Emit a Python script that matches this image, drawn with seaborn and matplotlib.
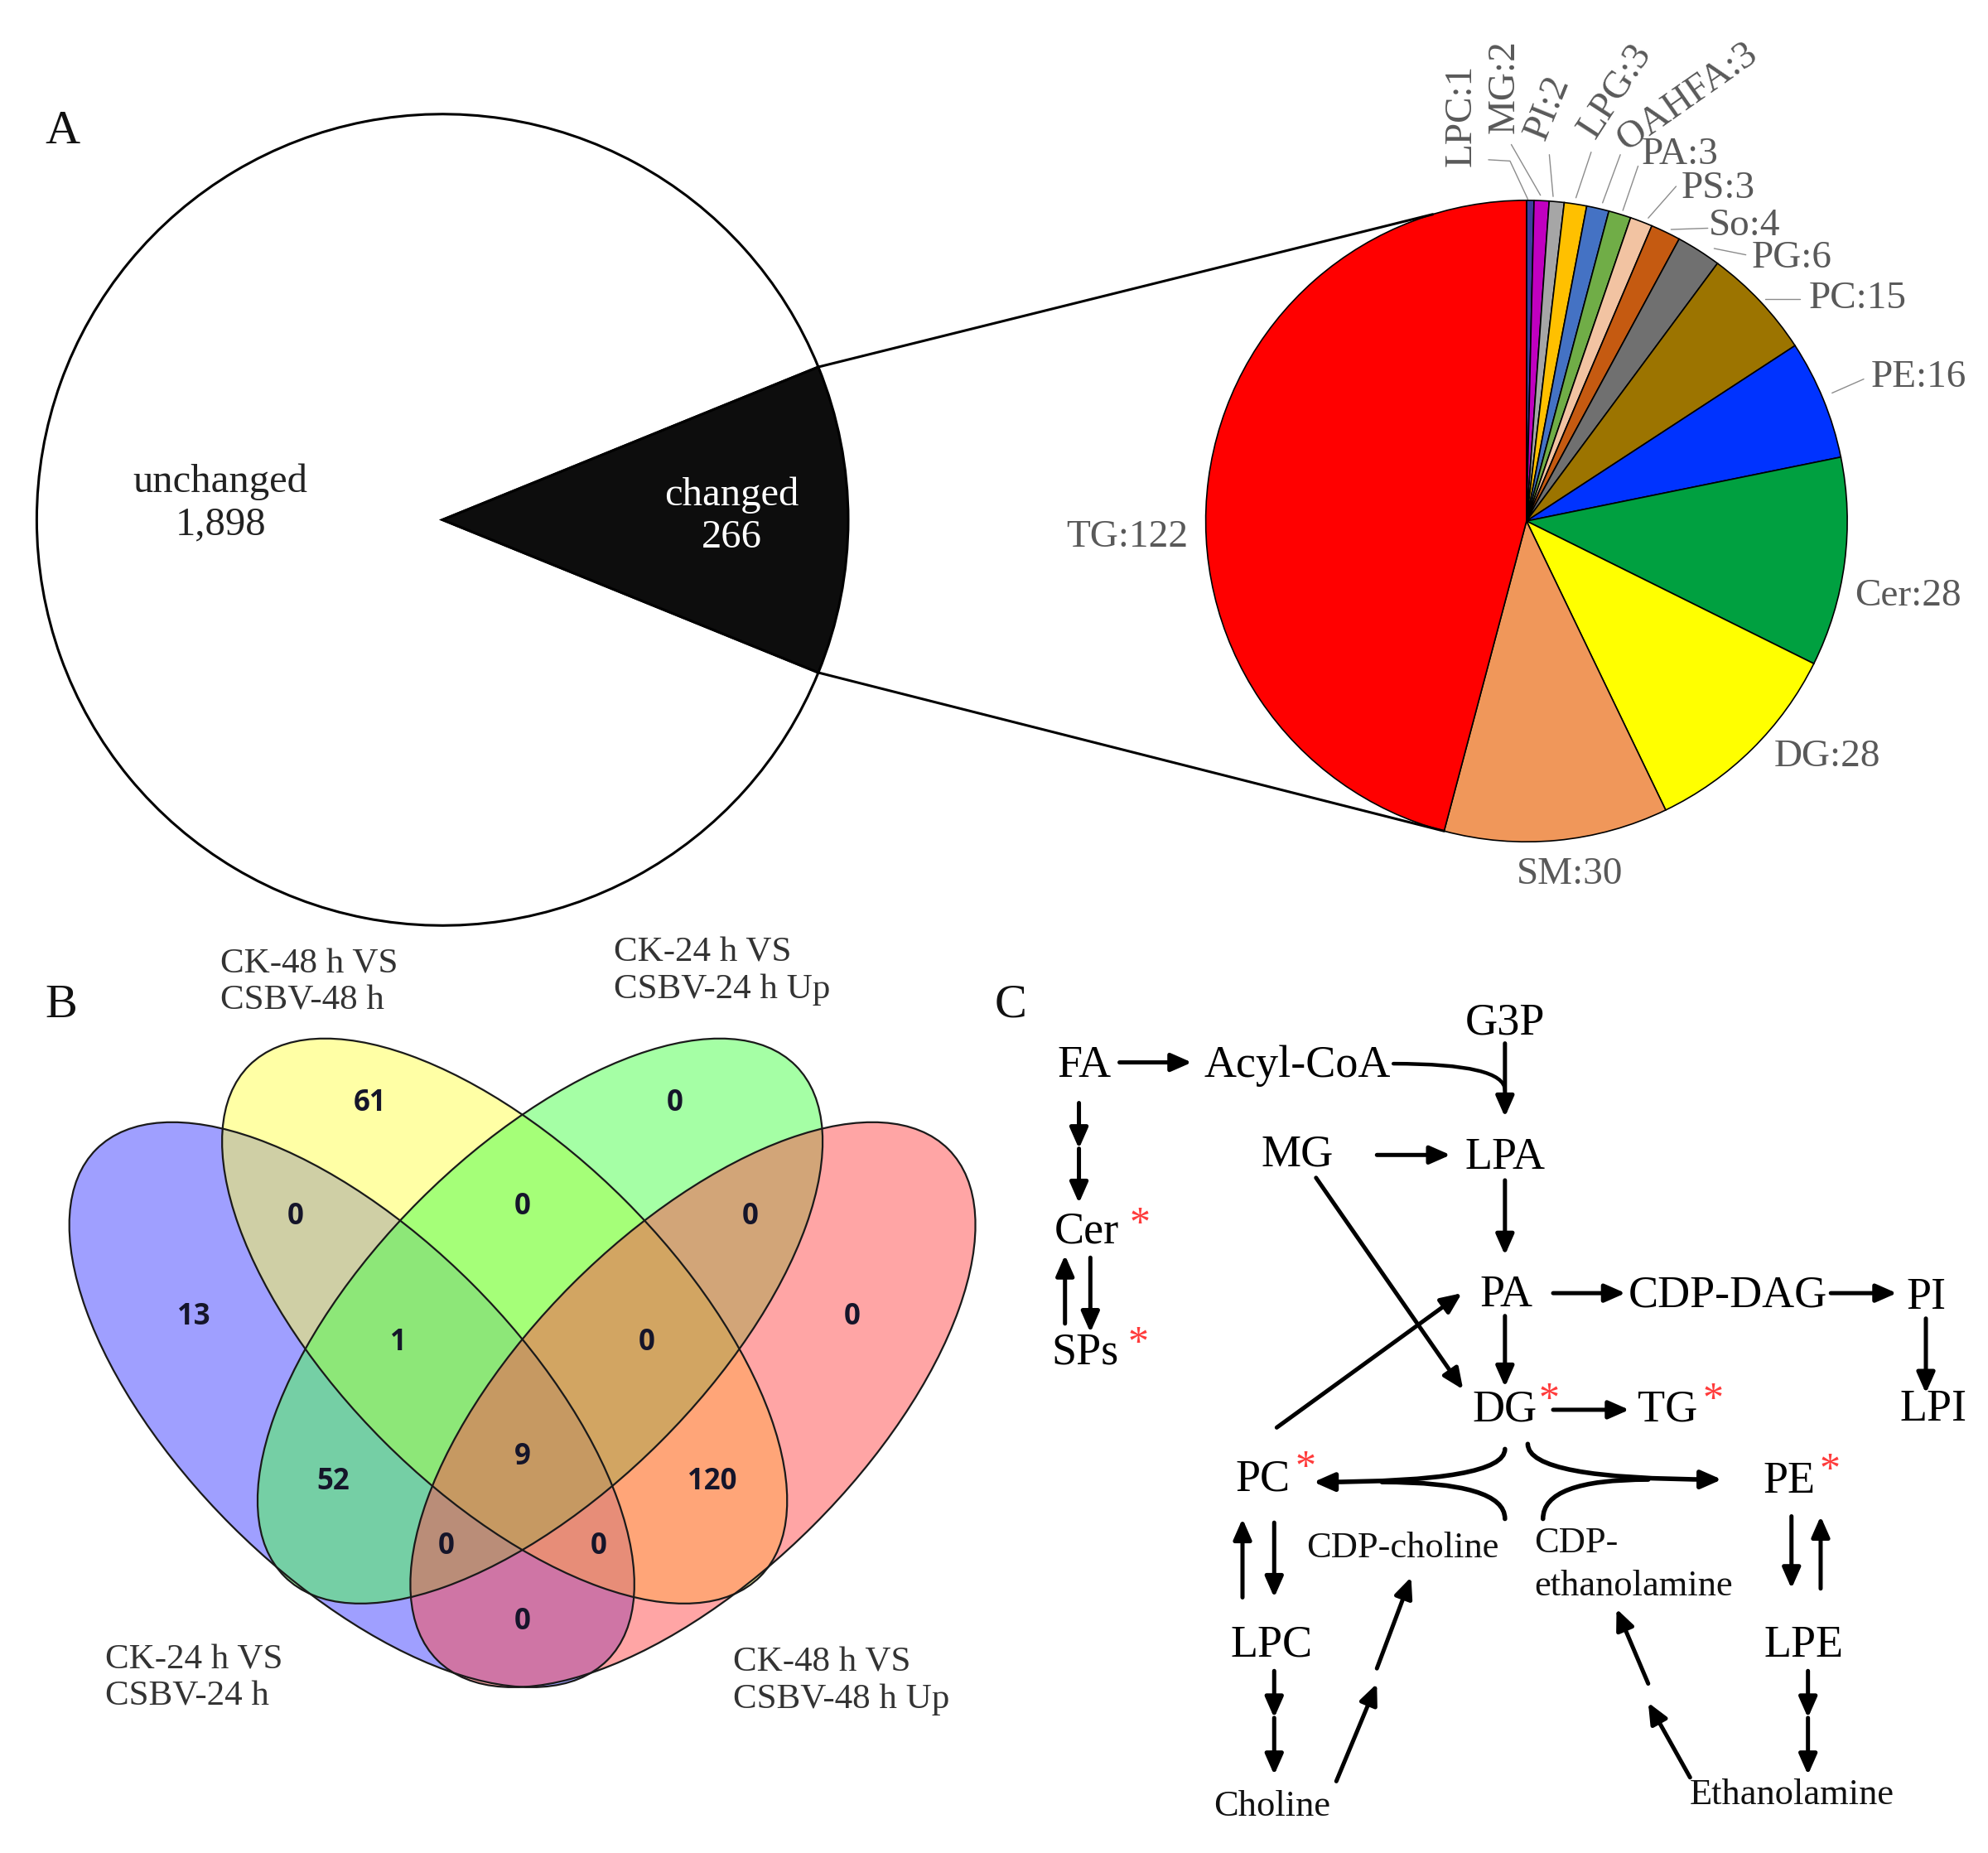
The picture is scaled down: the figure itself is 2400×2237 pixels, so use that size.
import numpy as np
import matplotlib
matplotlib.use('Agg')
import matplotlib.pyplot as plt
from matplotlib.patches import Ellipse
import seaborn as sns

# ---------------- data ----------------
# A: all lipids vs changed lipids
overall_labels = ["unchanged", "changed"]
overall_counts = [1898, 266]

# A: changed lipids by class (clockwise from 12 o'clock)
lipid_classes = ["LPC", "MG", "PI", "LPG", "OAHFA", "PA", "PS", "So", "PG",
                 "PC", "PE", "Cer", "DG", "SM", "TG"]
lipid_counts = [1, 2, 2, 3, 3, 3, 3, 4, 6, 15, 16, 28, 28, 30, 122]
lipid_colors = ["#3D3D9E", "#C000C0", "#A6A6A6", "#FFC000", "#4472C4", "#70AD47",
                "#F2C3A2", "#C55A11", "#707070", "#9C7400", "#0033FF", "#00A040",
                "#FFFF00", "#F0975A", "#FF0000"]

# B: four-set venn (blue, yellow, green, pink)
venn_sets = ["CK-24 h VS\nCSBV-24 h", "CK-48 h VS\nCSBV-48 h",
             "CK-24 h VS\nCSBV-24 h Up", "CK-48 h VS\nCSBV-48 h Up"]
venn_colors = ["#4040FF", "#FFFF4D", "#4DFF4D", "#FF4D4D"]
venn_regions = ["1000", "0100", "0010", "0001", "1100", "0110", "0011",
                "1110", "0111", "1010", "0101", "1111", "1011", "1101", "1001"]
venn_counts = [13, 61, 0, 0, 0, 0, 0, 1, 0, 52, 120, 9, 0, 0, 0]

# C: pathway nodes, starred = changed class
path_nodes = ["FA", "Acyl-CoA", "G3P", "MG", "LPA", "Cer", "SPs", "PA", "CDP-DAG",
              "PI", "DG", "TG", "LPI", "PC", "PE", "LPC", "LPE"]
starred = ["Cer", "SPs", "DG", "TG", "PC", "PE"]
small_nodes = ["CDP-choline", "Choline", "Ethanolamine"]

# ---------------- layout (figure pixel space of the reference) ----------------
W, H = 1568, 1461.6
sns.set_theme(style="white")
plt.rcParams['font.family'] = ['Liberation Serif', 'DejaVu Serif']

fig = plt.figure(figsize=(24, 22.37), dpi=100)
ax = fig.add_axes([0, 0, 1, 1])

# ---- panel A: overall pie ----
big_c, big_r = (349, 410), 320
half = overall_counts[1] / sum(overall_counts) * 180
ax.pie(overall_counts, colors=["white", "#0d0d0d"], startangle=half, counterclock=True,
       center=big_c, radius=big_r, wedgeprops=dict(edgecolor="black", linewidth=2.2))

# ---- panel A: lipid class pie (visually clockwise from top; y axis is inverted) ----
pie_c, pie_r = (1204, 411), 253
ax.pie(lipid_counts, colors=lipid_colors, startangle=-90, counterclock=True,
       center=pie_c, radius=pie_r, wedgeprops=dict(edgecolor="black", linewidth=1.2))

# connecting lines from the changed wedge to the class pie
a = np.deg2rad(half)
p_top = (big_c[0] + big_r * np.cos(a), big_c[1] - big_r * np.sin(a))
p_bot = (big_c[0] + big_r * np.cos(a), big_c[1] + big_r * np.sin(a))
tg_start = (1 - lipid_counts[-1] / sum(lipid_counts)) * 2 * np.pi
q_bot = (pie_c[0] + pie_r * np.sin(tg_start), pie_c[1] - pie_r * np.cos(tg_start))
q_top = (pie_c[0] + pie_r * np.cos(np.deg2rad(107)), pie_c[1] - pie_r * np.sin(np.deg2rad(107)))
ax.plot([p_top[0], q_top[0]], [p_top[1], q_top[1]], color="black", lw=2.2)
ax.plot([p_bot[0], q_bot[0]], [p_bot[1], q_bot[1]], color="black", lw=2.2)

ax.text(174, 397, "unchanged\n1,898", fontsize=35, color="#222222", ha="center",
        va="center", linespacing=1.2)
ax.text(577, 407, "changed\n266", fontsize=35, color="white", ha="center",
        va="center", linespacing=1.2)

# class labels: (x, y, rotation) and leader lines
label_pos = [(1153, 91, 90), (1187, 68, 90), (1221, 85, 68), (1274, 72, 57),
             (1331, 77, 35), (1325, 122, 0), (1355, 149, 0), (1376, 178, 0),
             (1413, 204, 0), (1465, 236, 0), (1513, 298, 0), (1505, 470, 0),
             (1441, 597, 0), (1238, 690, 0), (889, 424, 0)]
leaders = [[(1174, 126), (1191, 127), (1205, 157)], [(1192, 114), (1215, 154)],
           [(1222, 122), (1225, 155)], [(1255, 120), (1243, 156)],
           [(1278, 122), (1264, 160)], [(1292, 131), (1280, 166)],
           [(1322, 147), (1300, 172)], [(1347, 180), (1318, 181)],
           [(1377, 201), (1352, 196)], [(1420, 236), (1392, 236)],
           [(1470, 299), (1445, 310)]]
for name, n, (x, y, rot) in zip(lipid_classes, lipid_counts, label_pos):
    ax.text(x, y, f"{name}:{n}", fontsize=34, color="#595959", ha="center",
            va="center", rotation=rot, rotation_mode="anchor")
for pts in leaders:
    xs, ys = zip(*pts)
    ax.plot(xs, ys, color="#8c8c8c", lw=1.0)

# ---- panel B: venn ----
ell_centers = [(277.5, 1108), (398, 1042), (426, 1042), (546.5, 1108)]
ell_angles = [45, 45, -45, -45]
for (cx, cy), ang, col in zip(ell_centers, ell_angles, venn_colors):
    ax.add_patch(Ellipse((cx, cy), 570, 269, angle=ang, facecolor=col, alpha=0.5,
                         edgecolor="none"))
for (cx, cy), ang in zip(ell_centers, ell_angles):
    ax.add_patch(Ellipse((cx, cy), 570, 269, angle=ang, fill=False,
                         edgecolor="#1a1a1a", lw=1.6))

region_pos = [(153, 1039), (292, 870), (532, 870), (672, 1039), (233, 960),
              (412, 952), (592, 960), (314, 1059), (510, 1059), (263, 1169),
              (562, 1169), (412, 1149), (352, 1220), (472, 1220), (412, 1279)]
for n, (x, y) in zip(venn_counts, region_pos):
    ax.text(x, y, str(n), fontsize=25, fontweight="bold", family="Open Sans",
            color="#15152a", ha="center", va="center")

set_label_pos = [(83, 1324), (174, 775), (484, 766), (578, 1326)]
for lab, (x, y) in zip(venn_sets, set_label_pos):
    ax.text(x, y, lab, fontsize=31, color="#333333", ha="left", va="center",
            linespacing=1.2)

# ---- panel C: pathway ----
node_pos = {"FA": (855, 841), "Acyl-CoA": (1023, 841), "G3P": (1187, 807),
            "MG": (1023, 911), "LPA": (1187, 913), "Cer": (857, 972),
            "SPs": (856, 1067), "PA": (1188, 1022), "CDP-DAG": (1363, 1022),
            "PI": (1519, 1024), "DG": (1187, 1112), "TG": (1315, 1112),
            "LPI": (1525, 1112), "PC": (996, 1167), "PE": (1411, 1169),
            "LPC": (1003, 1298), "LPE": (1423, 1298),
            "CDP-choline": (1106, 1221), "Choline": (1003, 1425),
            "Ethanolamine": (1413, 1416)}
star_pos = {"Cer": (899, 966), "SPs": (898, 1060), "DG": (1222, 1105),
            "TG": (1351, 1105), "PC": (1030, 1158), "PE": (1443, 1160)}

for name in path_nodes:
    x, y = node_pos[name]
    ax.text(x, y, name, fontsize=39, color="black", ha="center", va="center")
for name in small_nodes:
    x, y = node_pos[name]
    ax.text(x, y, name, fontsize=32, color="#111111", ha="center", va="center")
ax.text(1210, 1217, "CDP-", fontsize=32, color="#111111", ha="left", va="center")
ax.text(1210, 1251, "ethanolamine", fontsize=32, color="#111111", ha="left", va="center")
for name in starred:
    x, y = star_pos[name]
    ax.text(x, y, "*", fontsize=36, color="#FF3B3B", ha="center", va="center")

head = "-|>,head_length=0.5,head_width=0.22"


def arrow(p0, p1, lw=3.6, style=head, conn="arc3"):
    ax.annotate("", xy=p1, xytext=p0,
                arrowprops=dict(arrowstyle=style, color="black", lw=lw,
                                mutation_scale=30, shrinkA=0, shrinkB=0,
                                connectionstyle=conn))


straight = [((883, 838), (940, 838)), ((1187, 823), (1187, 881)),
            ((851, 870), (851, 906)), ((851, 906), (851, 949)),
            ((840, 1044), (840, 990)), ((860, 992), (860, 1051)),
            ((1086, 911), (1144, 911)), ((1187, 931), (1187, 990)),
            ((1038, 929), (1154, 1096)), ((1225, 1020), (1282, 1020)),
            ((1444, 1020), (1496, 1020)), ((1519, 1040), (1519, 1099)),
            ((1187, 1038), (1187, 1094)), ((1007, 1126), (1153, 1020)),
            ((1225, 1112), (1285, 1112)),
            ((980, 1260), (980, 1198)), ((1005, 1201), (1005, 1260)),
            ((1005, 1318), (1005, 1355)), ((1005, 1355), (1005, 1400)),
            ((1054, 1405), (1086, 1328)), ((1086, 1316), (1113, 1244)),
            ((1333, 1402), (1300, 1343)), ((1300, 1328), (1275, 1269)),
            ((1413, 1196), (1413, 1253)), ((1436, 1253), (1436, 1196)),
            ((1426, 1318), (1426, 1355)), ((1426, 1355), (1426, 1400))]
for p0, p1 in straight:
    arrow(p0, p1)

# curved joins
arrow((1099, 839), (1187, 860), lw=3.2, style="-", conn="angle3,angleA=0,angleB=90")
arrow((1187, 1143), (1036, 1169), lw=4.0, conn="angle3,angleA=-90,angleB=0")
arrow((1187, 1198), (1090, 1169), lw=4.0, style="-", conn="angle3,angleA=90,angleB=0")
arrow((1205, 1139), (1358, 1167), lw=4.0, conn="angle3,angleA=-90,angleB=0")
arrow((1217, 1198), (1300, 1167), lw=4.0, style="-", conn="angle3,angleA=90,angleB=0")

# panel letters
for letter, (x, y) in zip(["A", "B", "C"], [(49, 104), (48, 793), (797, 793)]):
    ax.text(x, y, letter, fontsize=42, color="#111111", ha="center", va="center")

ax.set_xlim(0, W)
ax.set_ylim(H, 0)
ax.set_aspect("auto")
ax.axis("off")
fig.savefig("out.png", dpi=100, facecolor="white")
